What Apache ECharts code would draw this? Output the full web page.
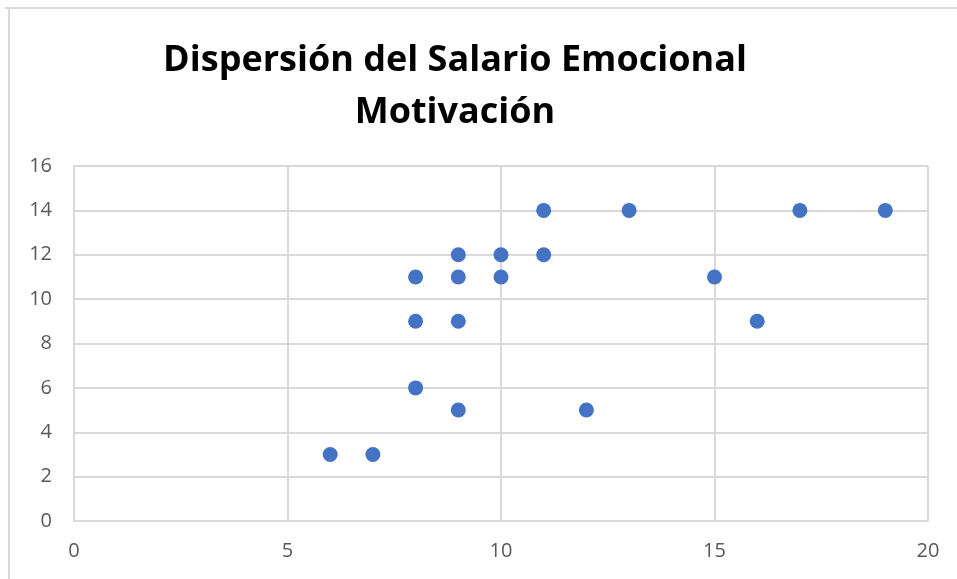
<!DOCTYPE html>
<html>
<head>
<meta charset="utf-8">
<script src="https://cdn.jsdelivr.net/npm/echarts@6/dist/echarts.min.js"></script>
<style>
  html, body { margin: 0; padding: 0; background: #fff; }
  #chartDiv { width: 957px; height: 579px; }
</style>
</head>
<body>
<div id="chartDiv"></div>
<script>
// 初始化图表
var myChart = echarts.init(document.getElementById('chartDiv'));

// 数据
var salario    = [6, 7, 8, 8, 8, 9, 9, 9, 9, 10, 10, 11, 11, 12, 13, 15, 16, 17, 19];
var motivacion = [3, 3, 6, 9, 11, 5, 9, 11, 12, 11, 12, 12, 14, 5, 14, 11, 9, 14, 14];
var titleLines = ['Dispersión del Salario Emocional', 'Motivación'];

var points = salario.map(function (x, i) {
    return [x, motivacion[i]];
});

// 坐标轴通用样式
var labelStyle = {
    color: '#595959',
    fontSize: 20,
    fontFamily: 'Open Sans'
};
var gridLine = { lineStyle: { color: '#d9d9d9', width: 2 } };
var axisLine = { show: true, lineStyle: { color: '#d9d9d9', width: 2 } };

var option = {
    backgroundColor: '#fff',
    animation: false,
    title: {
        text: titleLines.join('\n'),
        left: 450,
        top: 30,
        textAlign: 'center',
        textStyle: {
            fontFamily: 'Open Sans',
            fontWeight: 'bold',
            fontSize: 36,
            lineHeight: 52,
            color: '#000'
        }
    },
    // 外框
    graphic: [
        { type: 'line', shape: { x1: 5, y1: 8, x2: 957, y2: 8 }, style: { stroke: '#d9d9d9', lineWidth: 2 } },
        { type: 'line', shape: { x1: 9, y1: 8, x2: 9, y2: 579 }, style: { stroke: '#d9d9d9', lineWidth: 2 } }
    ],
    grid: { left: 74, right: 29, top: 166, bottom: 58 },
    xAxis: {
        type: 'value',
        min: 0,
        max: 20,
        interval: 5,
        axisLine: axisLine,
        axisTick: { show: false },
        axisLabel: Object.assign({ margin: 20 }, labelStyle),
        splitLine: gridLine
    },
    yAxis: {
        type: 'value',
        min: 0,
        max: 16,
        interval: 2,
        axisLine: axisLine,
        axisTick: { show: false },
        axisLabel: Object.assign({ margin: 22 }, labelStyle),
        splitLine: gridLine
    },
    series: [{
        type: 'scatter',
        data: points,
        symbolSize: 15,
        itemStyle: { color: '#4472c4', opacity: 1 }
    }]
};
myChart.setOption(option);
</script>
</body>
</html>
